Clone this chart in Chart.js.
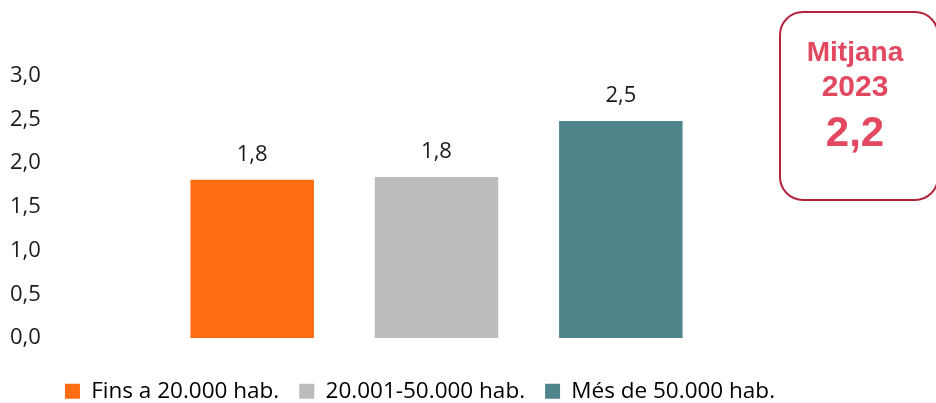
<!DOCTYPE html>
<html>
<head>
<meta charset="utf-8">
<script src="https://cdn.jsdelivr.net/npm/chart.js"></script>
<style>
  html, body { margin: 0; padding: 0; background: #fff; }
  #wrap { position: relative; width: 936px; height: 403px; overflow: hidden; }
  #chartBox { position: absolute; left: 0; top: 0; width: 830px; height: 403px; }
  #avg {
    position: absolute; left: 779px; top: 11px; width: 160px; height: 190px;
    box-sizing: border-box; border: 2.5px solid #b0233a; border-radius: 24px;
    font-family: "Liberation Sans", Arial, sans-serif; font-weight: bold;
    color: #e2485f; text-align: center;
  }
  #avg .t1 { position: absolute; left: 0; width: 148px; top: 23px; font-size: 28px; line-height: 32px; }
  #avg .t2 { position: absolute; left: 0; width: 148px; top: 57px; font-size: 30px; line-height: 32px; }
  #avg .t3 { position: absolute; left: 0; width: 148px; top: 95px; font-size: 42px; line-height: 48px; }
</style>
</head>
<body>
<div id="wrap">
  <div id="chartBox"><canvas id="c"></canvas></div>
  <div id="avg">
    <div class="t1">Mitjana</div>
    <div class="t2">2023</div>
    <div class="t3">2,2</div>
  </div>
</div>
<script>
// categories and values
const categories = ["Fins a 20.000 hab.", "20.001-50.000 hab.", "Més de 50.000 hab."];
const values = [1.81, 1.84, 2.48];
const valueLabels = ["1,8", "1,8", "2,5"];
const colors = ["#ff6d12", "#bcbcbb", "#4e868c"];

const fmt = v => v.toFixed(1).replace(".", ",");
const FONT = '"Open Sans", "Noto Sans", sans-serif';

// labels above the bars
const barLabels = {
  id: "barLabels",
  afterDatasetsDraw(chart) {
    const ctx = chart.ctx;
    const meta = chart.getDatasetMeta(0);
    ctx.save();
    ctx.font = "22px " + FONT;
    ctx.fillStyle = "#1a1a1a";
    ctx.textAlign = "center";
    ctx.textBaseline = "middle";
    meta.data.forEach((bar, i) => {
      ctx.fillText(valueLabels[i], bar.x, bar.y - 25);
    });
    ctx.restore();
  }
};

new Chart(document.getElementById("c"), {
  type: "bar",
  data: {
    labels: categories,
    datasets: [{
      data: values,
      backgroundColor: colors,
      borderWidth: 0,
      categoryPercentage: 1,
      barPercentage: 0.67
    }]
  },
  options: {
    responsive: true,
    maintainAspectRatio: false,
    animation: false,
    layout: { padding: { top: 75.5, left: 10, right: 0, bottom: -9.5 } },
    plugins: {
      tooltip: { enabled: false },
      legend: {
        position: "bottom",
        labels: {
          font: { family: FONT, size: 22.5 },
          color: "#1a1a1a",
          boxWidth: 15,
          boxHeight: 15,
          padding: 20,
          generateLabels: () => categories.map((c, i) => ({
            text: c, fillStyle: colors[i], strokeStyle: colors[i], lineWidth: 0, index: i
          }))
        }
      }
    },
    scales: {
      x: {
        grid: { display: false },
        border: { display: false },
        ticks: { display: false },
        afterFit: s => { s.height = 22; }
      },
      y: {
        min: 0,
        max: 3,
        grid: { display: false },
        border: { display: false },
        ticks: {
          stepSize: 0.5,
          crossAlign: "far",
          font: { family: FONT, size: 22 },
          color: "#1a1a1a",
          callback: v => fmt(v)
        },
        afterFit: s => { s.width = 150; }
      },
      // empty right axis, only to keep space at the right of the bars
      yRight: {
        position: "right",
        grid: { display: false },
        border: { display: false },
        ticks: { display: false },
        afterFit: s => { s.width = 117; }
      }
    }
  },
  plugins: [barLabels]
});
</script>
</body>
</html>
